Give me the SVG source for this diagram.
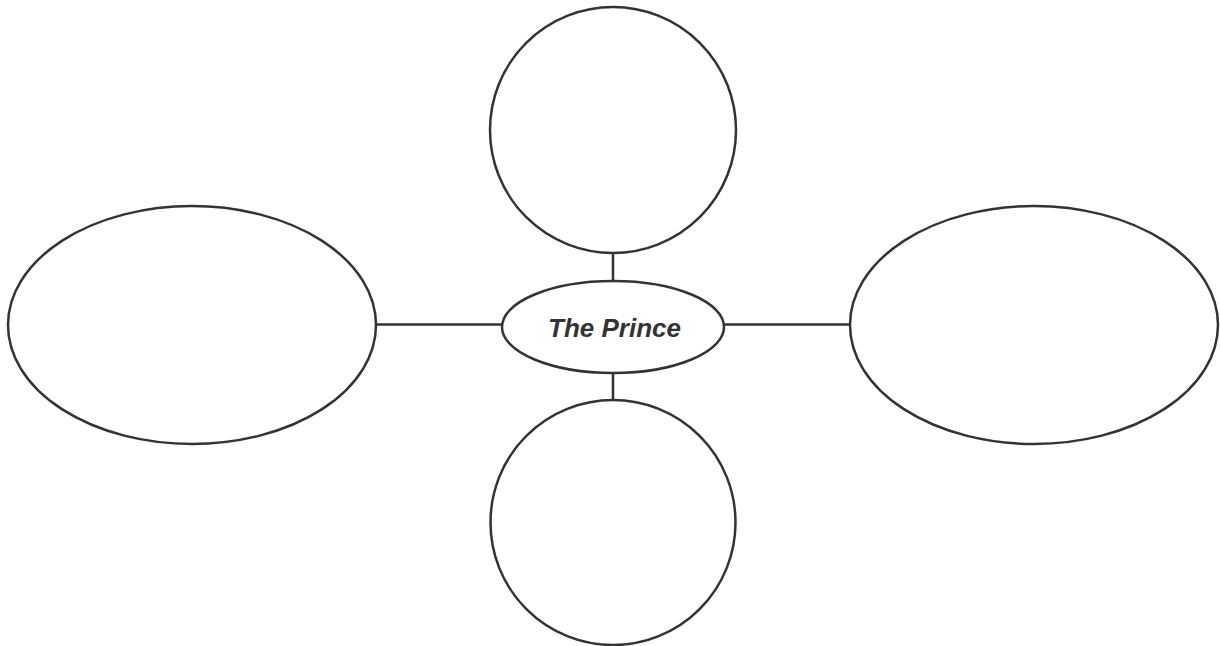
<svg xmlns="http://www.w3.org/2000/svg" width="1220" height="646" viewBox="0 0 1220 646">
  <style>
    .shape { fill: #ffffff; stroke: #333333; stroke-width: 2.5; }
    .link { stroke: #333333; stroke-width: 2.5; fill: none; }
    .label { font-family: "Liberation Sans", Arial, sans-serif; font-weight: bold; font-style: italic; font-size: 26px; fill: #333333; }
  </style>
  <rect width="1220" height="646" fill="#ffffff"/>
  <g id="connectors">
    <line class="link" x1="613" y1="253" x2="613" y2="281"/>
    <line class="link" x1="613" y1="373" x2="613" y2="400"/>
    <line class="link" x1="376" y1="324.5" x2="502" y2="324.5"/>
    <line class="link" x1="724" y1="324.5" x2="850" y2="324.5"/>
  </g>
  <g id="node-top">
    <circle class="shape" cx="613" cy="130" r="123"/>
  </g>
  <g id="node-bottom">
    <circle class="shape" cx="613" cy="522.5" r="122.5"/>
  </g>
  <g id="node-left">
    <ellipse class="shape" cx="192" cy="325" rx="184" ry="119"/>
  </g>
  <g id="node-right">
    <ellipse class="shape" cx="1034" cy="325" rx="184" ry="119"/>
  </g>
  <g id="node-center">
    <ellipse class="shape" cx="613" cy="327" rx="111" ry="46"/>
    <text class="label" x="614.5" y="337" text-anchor="middle">The Prince</text>
  </g>
</svg>
